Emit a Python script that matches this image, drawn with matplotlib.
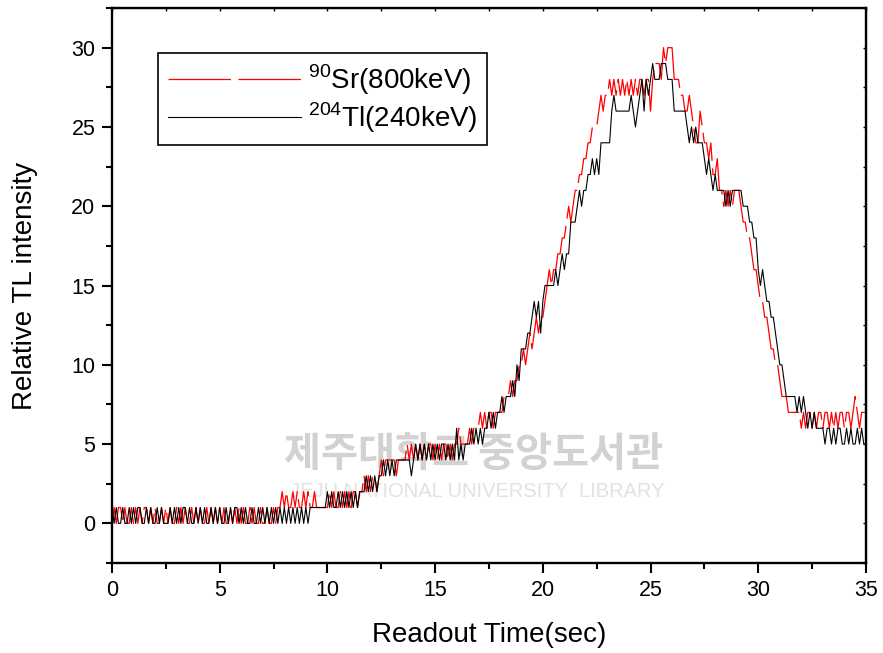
import numpy as np
import matplotlib
matplotlib.use("Agg")
import matplotlib.pyplot as plt
from matplotlib.ticker import MultipleLocator

plt.rcParams['font.family'] = ['Liberation Sans', 'Noto Sans CJK KR', 'DejaVu Sans']
plt.rcParams['mathtext.fontset'] = 'custom'
plt.rcParams['mathtext.rm'] = 'Liberation Sans'

# readout time, 0.1 s per sample
time_sec = [i / 10 for i in range(351)]

# 204Tl (240keV), one row per second
tl_240 = [
    1, 0, 1, 0, 0, 1, 0, 0, 1, 0,
    1, 0, 1, 1, 0, 0, 1, 0, 1, 0,
    0, 1, 0, 1, 0, 0, 0, 1, 0, 1,
    0, 1, 0, 1, 1, 0, 1, 0, 0, 1,
    0, 1, 0, 1, 0, 0, 1, 0, 1, 0,
    1, 0, 0, 1, 0, 1, 0, 1, 1, 0,
    1, 0, 1, 0, 0, 1, 0, 0, 1, 0,
    1, 0, 1, 0, 1, 0, 1, 0, 1, 0,
    1, 0, 1, 0, 1, 0, 1, 0, 1, 0,
    1, 0, 1, 1, 1, 1, 1, 1, 1, 1,
    2, 1, 2, 1, 1, 2, 1, 2, 1, 2,
    1, 2, 1, 2, 1, 2, 2, 2, 3, 2,
    3, 2, 3, 2, 3, 3, 4, 3, 4, 3,
    4, 3, 4, 4, 4, 4, 4, 4, 4, 3,
    4, 5, 4, 5, 4, 5, 4, 5, 4, 5,
    4, 5, 4, 5, 5, 4, 5, 4, 5, 4,
    6, 4, 5, 4, 5, 5, 5, 6, 5, 6,
    5, 6, 5, 6, 6, 7, 6, 7, 6, 7,
    7, 8, 7, 8, 8, 8, 9, 8, 10, 9,
    11, 11, 11, 12, 12, 13, 14, 13, 14, 12,
    14, 15, 15, 15, 15, 15, 16, 15, 16, 17,
    16, 17, 17, 19, 19, 19, 20, 21, 20, 21,
    21, 22, 22, 23, 22, 23, 22, 24, 24, 24,
    24, 24, 26, 27, 26, 26, 26, 26, 26, 26,
    26, 27, 26, 25, 26, 27, 28, 26, 28, 27,
    28, 29, 28, 28, 28, 29, 29, 29, 28, 28,
    28, 26, 26, 26, 26, 26, 26, 25, 24, 25,
    24, 25, 24, 24, 24, 23, 22, 23, 22, 21,
    22, 21, 21, 21, 21, 20, 21, 20, 21, 21,
    21, 21, 21, 20, 20, 20, 19, 19, 18, 18,
    16, 15, 16, 15, 14, 14, 13, 13, 12, 11,
    10, 10, 9, 8, 8, 8, 8, 8, 7, 8,
    7, 8, 7, 6, 7, 6, 7, 6, 6, 6,
    6, 5, 6, 6, 5, 6, 5, 6, 6, 5,
    5, 6, 5, 6, 5, 5, 6, 5, 6, 5,
    5,
]

# 90Sr (800keV)
sr_800 = [
    0, 1, 0, 1, 1, 0, 1, 0, 0, 1,
    0, 1, 0, 1, 0, 1, 1, 0, 1, 0,
    1, 0, 0, 1, 0, 1, 0, 1, 0, 0,
    1, 0, 1, 0, 1, 0, 0, 1, 0, 1,
    0, 1, 0, 0, 1, 0, 1, 0, 1, 0,
    1, 0, 1, 0, 0, 1, 0, 1, 0, 1,
    0, 1, 0, 0, 1, 0, 1, 0, 0, 1,
    0, 0, 1, 0, 0, 1, 0, 1, 1, 2,
    1, 2, 1, 1, 2, 1, 2, 1, 1, 2,
    1, 2, 1, 1, 2, 1, 1, 1, 1, 1,
    1, 2, 1, 2, 1, 1, 2, 1, 2, 1,
    2, 1, 2, 2, 1, 2, 2, 3, 2, 3,
    2, 3, 3, 2, 3, 4, 3, 4, 4, 4,
    4, 4, 3, 4, 4, 4, 4, 5, 4, 5,
    4, 5, 4, 5, 4, 5, 4, 5, 5, 4,
    5, 4, 5, 4, 5, 5, 4, 5, 4, 5,
    5, 6, 5, 5, 5, 5, 6, 5, 6, 6,
    6, 7, 6, 7, 6, 7, 7, 6, 7, 7,
    7, 7, 8, 8, 8, 9, 8, 9, 9, 10,
    10, 11, 10, 11, 12, 11, 12, 13, 12, 13,
    13, 14, 15, 16, 15, 16, 16, 17, 17, 18,
    18, 19, 20, 19, 20, 21, 21, 22, 22, 23,
    23, 24, 24, 25, 25, 25, 26, 27, 26, 27,
    27, 28, 27, 28, 27, 28, 27, 28, 27, 28,
    27, 28, 27, 28, 27, 28, 28, 27, 28, 28,
    26, 28, 29, 29, 29, 28, 30, 29, 30, 30,
    30, 28, 28, 28, 27, 27, 26, 26, 27, 26,
    25, 24, 24, 26, 25, 24, 24, 23, 24, 22,
    22, 23, 21, 21, 20, 21, 20, 21, 20, 21,
    21, 21, 20, 19, 19, 18, 18, 17, 16, 16,
    15, 14, 14, 13, 13, 12, 11, 11, 10, 10,
    9, 8, 8, 8, 7, 7, 7, 7, 7, 7,
    6, 7, 6, 7, 7, 6, 7, 6, 7, 7,
    6, 7, 7, 6, 7, 6, 7, 6, 7, 7,
    6, 7, 7, 6, 7, 8, 7, 6, 7, 7,
    7,
]

legend_labels = [r'$^{\mathregular{90}}$Sr(800keV)', r'$^{\mathregular{204}}$Tl(240keV)']

fig = plt.figure(figsize=(8.83, 6.53), dpi=100)
ax = fig.add_axes([0.1268, 0.1378, 0.8539, 0.8499])

# faint library watermark behind the data
ax.text(0.479, 0.195, '제주대학교 중앙도서관', transform=ax.transAxes, fontsize=29,
        family=['Noto Sans CJK KR'], fontweight='bold', color='#d2d2d2',
        ha='center', va='center', zorder=0)
ax.text(0.484, 0.128, 'JEJU NATIONAL UNIVERSITY  LIBRARY', transform=ax.transAxes,
        fontsize=14.5, color='#e2e2e2', ha='center', va='center', zorder=0)

# black drawn over the red, as in the original
ax.plot(time_sec, sr_800, color='#ff0000', lw=0.9, dashes=(50, 6), label=legend_labels[0], zorder=2)
ax.plot(time_sec, tl_240, color='black', lw=0.8, label=legend_labels[1], zorder=3)

ax.set_xlim(0, 35)
ax.set_ylim(-2.5, 32.5)
ax.xaxis.set_major_locator(MultipleLocator(5))
ax.xaxis.set_minor_locator(MultipleLocator(2.5))
ax.yaxis.set_major_locator(MultipleLocator(5))
ax.yaxis.set_minor_locator(MultipleLocator(2.5))
ax.tick_params(which='major', direction='out', length=7, width=1.5, labelsize=15.5, pad=5)
ax.tick_params(which='minor', direction='out', length=4, width=1.5)
for s in ax.spines.values():
    s.set_linewidth(1.7)

# tiny inward ticks on top and right
top = ax.secondary_xaxis('top')
top.xaxis.set_major_locator(MultipleLocator(2.5))
top.tick_params(direction='in', length=2, width=1, labeltop=False)
right = ax.secondary_yaxis('right')
right.yaxis.set_major_locator(MultipleLocator(2.5))
right.tick_params(direction='in', length=2, width=1, labelright=False)

ax.set_xlabel('Readout Time(sec)', fontsize=20, labelpad=15)
ax.set_ylabel('Relative TL intensity', fontsize=20, labelpad=24)

leg = ax.legend(loc='upper left', bbox_to_anchor=(0.061, 0.919), fontsize=20,
                handlelength=4.8, handletextpad=0.25, labelspacing=0.12,
                borderpad=0.35, fancybox=False, framealpha=1, borderaxespad=0)
leg.get_frame().set_edgecolor('black')
leg.get_frame().set_linewidth(1.2)

fig.savefig('out.png', dpi=100)
